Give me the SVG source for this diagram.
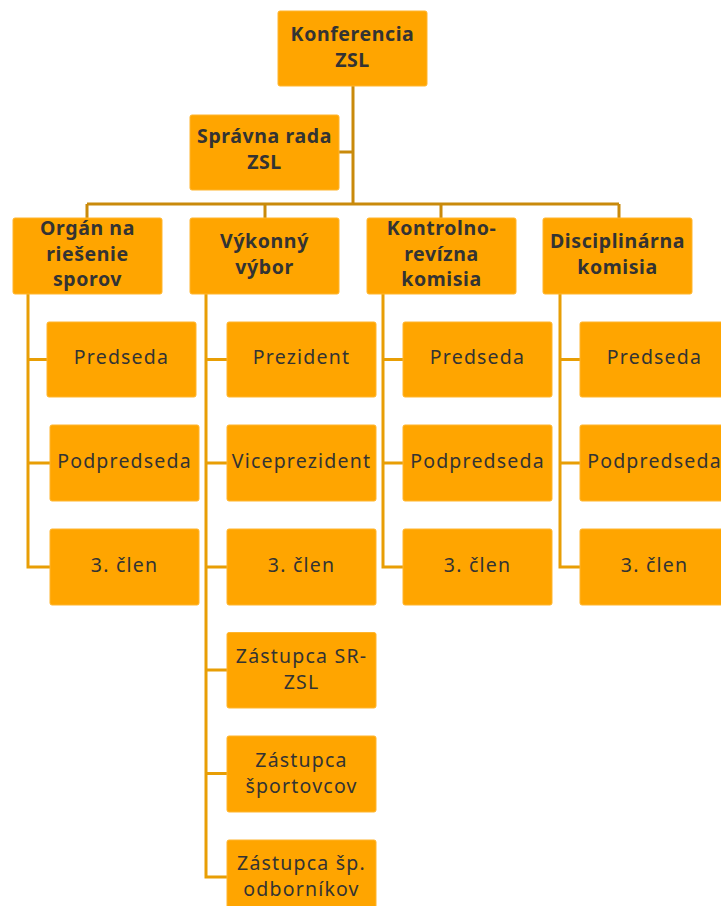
<svg xmlns="http://www.w3.org/2000/svg" width="721" height="906" viewBox="0 0 721 906">
<style>
.b{fill:#FFA500;stroke:#FFB52E;stroke-width:1}
.t{font-family:"Noto Sans","Open Sans",sans-serif;font-weight:bold;font-size:19.5px;letter-spacing:0.6px;fill:#333;text-anchor:middle}
.c{font-family:"Noto Sans","Open Sans",sans-serif;font-size:19.5px;letter-spacing:1.2px;fill:#333;text-anchor:middle}
.l1{stroke:#C98A0B;stroke-width:3;fill:none}
.l2{stroke:#E89E05;stroke-width:3;fill:none}
</style>
<g id="connectors">
<path class="l1" d="M353 86V204M339 152H353M87 204H619M87 204V218M265 204V218M441 204V218M619 204V218"/>
<path class="l2" d="M28 294V567H50M28 359.5H47M28 463H50"/>
<path class="l2" d="M206 294V877H227M206 359.5H227M206 463H227M206 567H227M206 670H227M206 773.5H227"/>
<path class="l2" d="M383 294V567H403M383 359.5H403M383 463H403"/>
<path class="l2" d="M560 294V567H580M560 359.5H580M560 463H580"/>
</g>
<g id="konferencia"><rect class="b" x="278" y="11" width="149" height="75" rx="2"/><text class="t" x="352.5" y="41">Konferencia</text><text class="t" x="352.5" y="66.5">ZSL</text></g>
<g id="spravna"><rect class="b" x="190" y="115" width="149" height="75" rx="2"/><text class="t" x="264.5" y="143">Správna rada</text><text class="t" x="264.5" y="168.5">ZSL</text></g>
<g id="organ"><rect class="b" x="13" y="218" width="149" height="76" rx="2"/><text class="t" x="87.5" y="235">Orgán na</text><text class="t" x="87.5" y="260.5">riešenie</text><text class="t" x="87.5" y="286">sporov</text></g>
<g id="vykonny"><rect class="b" x="190" y="218" width="149" height="76" rx="2"/><text class="t" x="264.5" y="248">Výkonný</text><text class="t" x="264.5" y="273.5">výbor</text></g>
<g id="kontrolno"><rect class="b" x="367" y="218" width="149" height="76" rx="2"/><text class="t" x="441.5" y="235">Kontrolno-</text><text class="t" x="441.5" y="260.5">revízna</text><text class="t" x="441.5" y="286">komisia</text></g>
<g id="disciplinarna"><rect class="b" x="543" y="218" width="149" height="76" rx="2"/><text class="t" x="617.5" y="248">Disciplinárna</text><text class="t" x="617.5" y="273.5">komisia</text></g>
<g id="c1-predseda"><rect class="b" x="47" y="322" width="149" height="75" rx="2"/><text class="c" x="121.5" y="364">Predseda</text></g>
<g id="c1-podpredseda"><rect class="b" x="50" y="425" width="149" height="76" rx="2"/><text class="c" x="124.5" y="468">Podpredseda</text></g>
<g id="c1-clen"><rect class="b" x="50" y="529" width="149" height="76" rx="2"/><text class="c" x="124.5" y="572">3. člen</text></g>
<g id="c2-prezident"><rect class="b" x="227" y="322" width="149" height="75" rx="2"/><text class="c" x="301.5" y="364">Prezident</text></g>
<g id="c2-viceprezident"><rect class="b" x="227" y="425" width="149" height="76" rx="2"/><text class="c" x="301.5" y="468">Viceprezident</text></g>
<g id="c2-clen"><rect class="b" x="227" y="529" width="149" height="76" rx="2"/><text class="c" x="301.5" y="572">3. člen</text></g>
<g id="c2-sr"><rect class="b" x="227" y="632.5" width="149" height="75.5" rx="2"/><text class="c" x="301.5" y="663">Zástupca SR-</text><text class="c" x="301.5" y="688.5">ZSL</text></g>
<g id="c2-sportovcov"><rect class="b" x="227" y="736" width="149" height="76" rx="2"/><text class="c" x="301.5" y="767">Zástupca</text><text class="c" x="301.5" y="792.5">športovcov</text></g>
<g id="c2-odbornikov"><rect class="b" x="227" y="840" width="149" height="76" rx="2"/><text class="c" x="301.5" y="870">Zástupca šp.</text><text class="c" x="301.5" y="895.5">odborníkov</text></g>
<g id="c3-predseda"><rect class="b" x="403" y="322" width="149" height="75" rx="2"/><text class="c" x="477.5" y="364">Predseda</text></g>
<g id="c3-podpredseda"><rect class="b" x="403" y="425" width="149" height="76" rx="2"/><text class="c" x="477.5" y="468">Podpredseda</text></g>
<g id="c3-clen"><rect class="b" x="403" y="529" width="149" height="76" rx="2"/><text class="c" x="477.5" y="572">3. člen</text></g>
<g id="c4-predseda"><rect class="b" x="580" y="322" width="149" height="75" rx="2"/><text class="c" x="654.5" y="364">Predseda</text></g>
<g id="c4-podpredseda"><rect class="b" x="580" y="425" width="149" height="76" rx="2"/><text class="c" x="654.5" y="468">Podpredseda</text></g>
<g id="c4-clen"><rect class="b" x="580" y="529" width="149" height="76" rx="2"/><text class="c" x="654.5" y="572">3. člen</text></g>
</svg>
